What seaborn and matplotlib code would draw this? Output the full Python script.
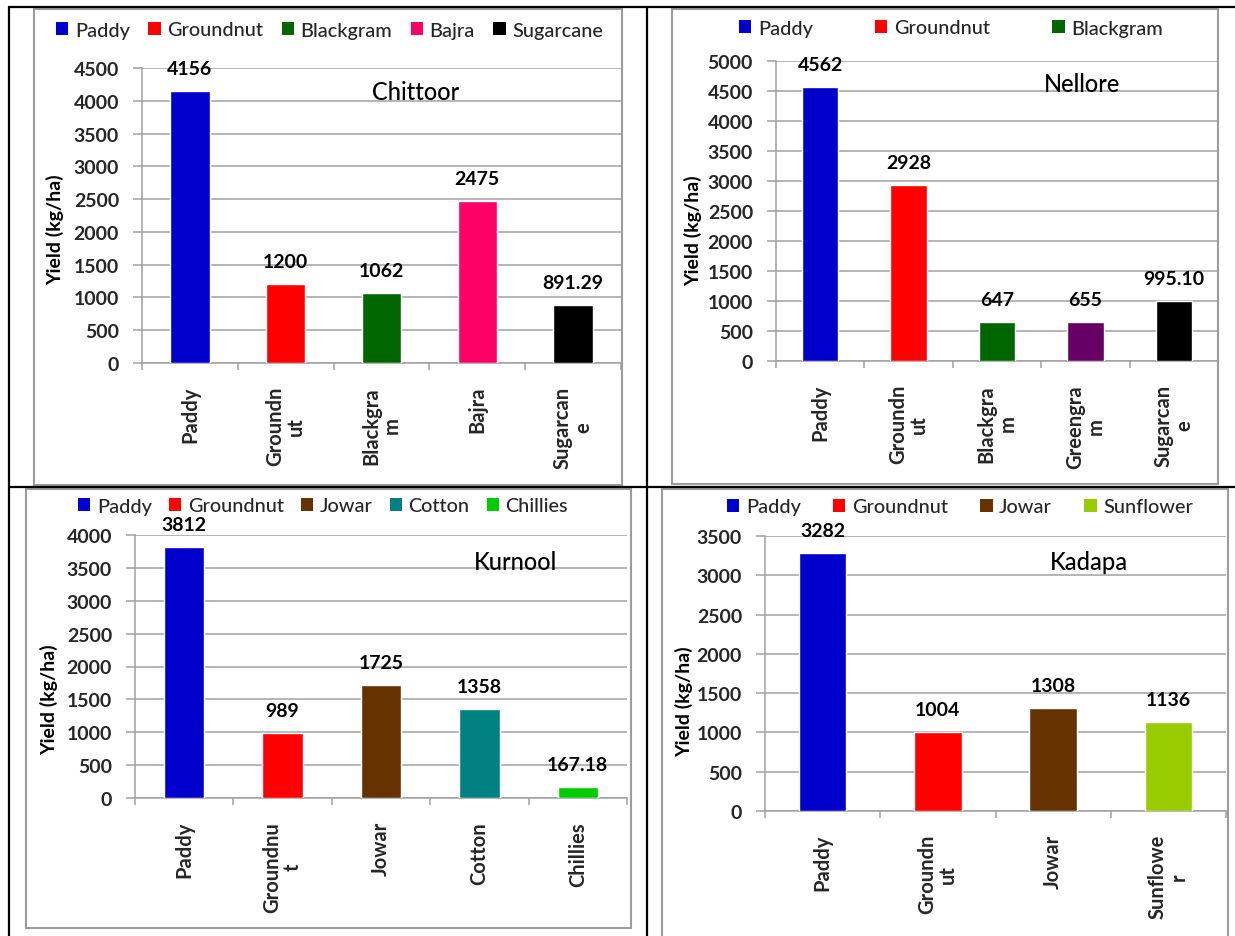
import matplotlib
matplotlib.use("Agg")
import matplotlib.pyplot as plt
import seaborn as sns
import numpy as np
import pandas as pd
from matplotlib.patches import Rectangle, Patch
from matplotlib.lines import Line2D

# ---------------- data ----------------
chittoor_crops = ["Paddy", "Groundnut", "Blackgram", "Bajra", "Sugarcane"]
chittoor_yield = [4156, 1200, 1062, 2475, 891.29]
chittoor_ticks = ["Paddy", "Groundn\nut", "Blackgra\nm", "Bajra", "Sugarcan\ne"]
chittoor_legend = ["Paddy", "Groundnut", "Blackgram", "Bajra", "Sugarcane"]

nellore_crops = ["Paddy", "Groundnut", "Blackgram", "Greengram", "Sugarcane"]
nellore_yield = [4562, 2928, 647, 655, 995.10]
nellore_ticks = ["Paddy", "Groundn\nut", "Blackgra\nm", "Greengra\nm", "Sugarcan\ne"]
nellore_legend = ["Paddy", "Groundnut", "Blackgram"]

kurnool_crops = ["Paddy", "Groundnut", "Jowar", "Cotton", "Chillies"]
kurnool_yield = [3812, 989, 1725, 1358, 167.18]
kurnool_ticks = ["Paddy", "Groundnu\nt", "Jowar", "Cotton", "Chillies"]
kurnool_legend = ["Paddy", "Groundnut", "Jowar", "Cotton", "Chillies"]

kadapa_crops = ["Paddy", "Groundnut", "Jowar", "Sunflower"]
kadapa_yield = [3282, 1004, 1308, 1136]
kadapa_ticks = ["Paddy", "Groundn\nut", "Jowar", "Sunflowe\nr"]
kadapa_legend = ["Paddy", "Groundnut", "Jowar", "Sunflower"]

district_names = ["Chittoor", "Nellore", "Kurnool", "Kadapa"]
y_max = [4500, 5000, 4000, 3500]
y_label = "Yield (kg/ha)"

crop_colors = {
    "Paddy": "#0000CC", "Groundnut": "#FF0000", "Blackgram": "#006600",
    "Bajra": "#FF0066", "Sugarcane": "#000000", "Greengram": "#660066",
    "Jowar": "#663300", "Cotton": "#008080", "Chillies": "#00CC00",
    "Sunflower": "#99CC00",
}

# ---------------- layout (pixels) ----------------
W, H = 1235, 937
sns.set_theme(style="white")
plt.rcParams["font.family"] = ["Lato", "DejaVu Sans"]

fig = plt.figure(figsize=(W / 100, H / 100), dpi=100)
fig.patch.set_facecolor("white")

GRID = "#A0A0A0"
FRAME = "#9C9C9C"

def frect(l, r, t, b):
    return [l / W, 1 - b / H, (r - l) / W, (b - t) / H]

def fpt(x, y):
    return (x / W, 1 - y / H)

panels = [
    dict(crops=chittoor_crops, vals=chittoor_yield, ticks=chittoor_ticks, legend=chittoor_legend,
         ax=(142, 621, 69, 364), frame=(34, 622, 10, 486), title=(416, 92),
         ylab=(55, 230), leg=(56, 603, 31)),
    dict(crops=nellore_crops, vals=nellore_yield, ticks=nellore_ticks, legend=nellore_legend,
         ax=(776, 1218, 62, 362), frame=(672, 1218, 10, 485), title=(1082, 85),
         ylab=(693, 231), leg=(739, 1163, 29)),
    dict(crops=kurnool_crops, vals=kurnool_yield, ticks=kurnool_ticks, legend=kurnool_legend,
         ax=(135, 627, 536, 799), frame=(26, 631, 490, 929), title=(516, 562),
         ylab=(49, 700), leg=(78, 568, 507)),
    dict(crops=kadapa_crops, vals=kadapa_yield, ticks=kadapa_ticks, legend=kadapa_legend,
         ax=(765, 1226, 537, 812), frame=(662, 1228, 490, 960), title=(1089, 563),
         ylab=(684, 702), leg=(727, 1193, 508)),
]

def fmt(v):
    return f"{v:.0f}" if float(v).is_integer() else f"{v:.2f}"

# outer black table lines
for (x0, y0, x1, y1) in [(9, 8, 1235, 8), (9, 8, 9, 937), (9, 488, 1235, 488), (647, 8, 647, 937)]:
    fig.add_artist(Line2D([x0 / W, x1 / W], [1 - y0 / H, 1 - y1 / H], transform=fig.transFigure,
                          color="black", lw=1.6))

LEG_FS = 14.3
TICK_FS = 14
CAT_FS = 14.5
VAL_FS = 14

for i, p in enumerate(panels):
    fl, fr, ft, fb = p["frame"]
    fig.add_artist(Rectangle(fpt(fl, fb), (fr - fl) / W, (fb - ft) / H, transform=fig.transFigure,
                             fill=False, edgecolor=FRAME, lw=1.5))
    ax = fig.add_axes(frect(*p["ax"]))
    df = pd.DataFrame({"crop": p["crops"], "yield": p["vals"]})
    sns.barplot(data=df, x="crop", y="yield", hue="crop", hue_order=p["crops"], order=p["crops"],
                palette={c: crop_colors[c] for c in p["crops"]}, saturation=1, width=0.41,
                legend=False, ax=ax, zorder=3)
    n = len(p["crops"])
    ax.set_xlim(-0.5, n - 0.5)
    ax.set_ylim(0, y_max[i])
    ax.set_yticks(np.arange(0, y_max[i] + 1, 500))
    ax.yaxis.grid(True, color=GRID, lw=1.1, zorder=0)
    ax.set_axisbelow(True)
    ax.set_facecolor("none")
    for s in ["top", "right"]:
        ax.spines[s].set_visible(False)
    for s in ["left", "bottom"]:
        ax.spines[s].set_color(GRID)
        ax.spines[s].set_linewidth(1.1)
    ax.set_xlabel("")
    ax.set_ylabel("")
    ax.set_xticks(range(n))
    ax.set_xticklabels(p["ticks"], rotation=90, ha="center", va="top", multialignment="center",
                       fontweight="bold", fontsize=CAT_FS, linespacing=1.05)
    ax.set_xticks(np.arange(-0.5, n, 1), minor=True)
    ax.tick_params(axis="x", which="major", length=0, pad=16.5)
    ax.tick_params(axis="x", which="minor", length=5, width=1.1, color=GRID, bottom=True)
    ax.tick_params(axis="y", which="major", length=6.5, width=1.1, color=GRID, pad=10,
                   labelsize=TICK_FS, left=True)
    for t in ax.get_yticklabels():
        t.set_fontweight("bold")
    for cont in ax.containers:
        ax.bar_label(cont, labels=[fmt(b.get_height()) for b in cont], padding=10,
                     fontsize=VAL_FS, fontweight="bold", color="black")
    fig.text(*fpt(*p["title"]), district_names[i], ha="center", va="center", fontsize=17,
             fontweight="medium", color="black")
    fig.text(*fpt(*p["ylab"]), y_label, ha="center", va="center", rotation=90, fontsize=14,
             fontweight="bold", color="black")

# legends, spread to match the original width
for p in panels:
    x0, x1, yc = p["leg"]
    names = p["legend"]
    handles = [Patch(facecolor=crop_colors[c], edgecolor="none") for c in names]
    fs_px = LEG_FS * 100 / 72
    cs = 1.0
    kw = dict(loc="center", bbox_to_anchor=fpt((x0 + x1) / 2, yc), ncol=len(names), frameon=False,
              prop=dict(size=LEG_FS, weight="medium"), handlelength=0.62, handleheight=0.62,
              handletextpad=0.33, borderpad=0, borderaxespad=0)
    leg = fig.legend(handles, names, columnspacing=cs, **kw)
    fig.canvas.draw()
    w = leg.get_window_extent().width
    if len(names) > 1:
        cs = cs + ((x1 - x0) - w) / ((len(names) - 1) * fs_px)
    leg.remove()
    fig.legend(handles, names, columnspacing=cs, **kw)

fig.savefig("out.png", dpi=100, facecolor="white")
